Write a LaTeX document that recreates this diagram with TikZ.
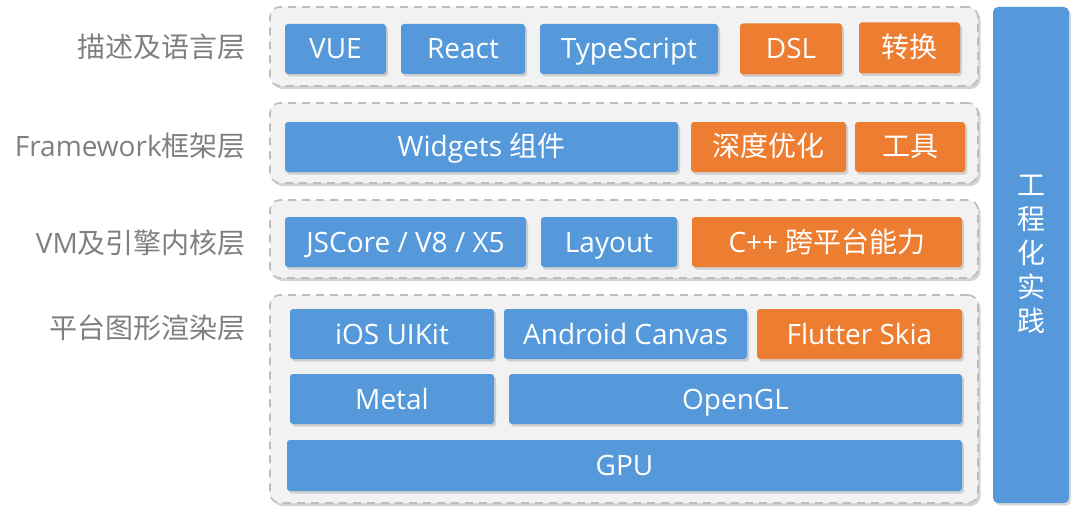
\documentclass[tikz,border=0pt]{standalone}
\usepackage{fontspec}
\setmainfont{Open Sans}
\newfontfamily\cjk{Noto Sans CJK SC}
\usetikzlibrary{shadows}

\definecolor{boxblue}{HTML}{5599DB}
\definecolor{boxorange}{HTML}{ED7D31}
\definecolor{layerfill}{HTML}{F2F2F2}
\definecolor{layerline}{HTML}{BDBDBD}
\definecolor{labelgray}{HTML}{7F7F7F}

\tikzset{
  layer/.style={draw=layerline, fill=layerfill, line width=1.6pt,
    dash pattern=on 8pt off 6pt, rounded corners=10pt, inner sep=0pt,
    drop shadow={shadow xshift=2.5pt, shadow yshift=-3pt, opacity=0.35}},
  blk/.style={rounded corners=3pt, text=white, inner sep=0pt,
    font=\fontsize{28}{28}\selectfont, text height=20pt, text depth=0pt,
    drop shadow={shadow xshift=2pt, shadow yshift=-2.5pt, opacity=0.3}},
  blueblk/.style={blk, fill=boxblue},
  orangeblk/.style={blk, fill=boxorange},
  layerlabel/.style={anchor=east, text=labelgray, inner sep=0pt,
    font=\fontsize{28}{28}\selectfont, text height=20pt, text depth=0pt},
}

\begin{document}
\begin{tikzpicture}[x=1pt,y=-1pt]
  \useasboundingbox (0,0) rectangle (1080,519);

  % Layer frames
  \node [layer, minimum width=708pt, minimum height=79pt] (layerA) at (624,46.5) {};
  \node [layer, minimum width=708pt, minimum height=80pt] (layerB) at (624,143) {};
  \node [layer, minimum width=708pt, minimum height=78pt] (layerC) at (624,239) {};
  \node [layer, minimum width=708pt, minimum height=208pt] (layerD) at (624,399) {};

  % Layer labels
  \node [layerlabel] (labelA) at (246,48) {\cjk 描述及语言层};
  \node [layerlabel] (labelB) at (246,147) {Framework{\cjk 框架层}};
  \node [layerlabel] (labelC) at (246,243) {VM{\cjk 及引擎内核层}};
  \node [layerlabel] (labelD) at (246,328) {\cjk 平台图形渲染层};

  % Row of description and language layer
  \node [blueblk, minimum width=101pt, minimum height=50pt] (vue) at (335.5,49) {VUE};
  \node [blueblk, minimum width=124pt, minimum height=50pt] (react) at (463,49) {React};
  \node [blueblk, minimum width=178pt, minimum height=50pt] (typescript) at (629,49) {TypeScript};
  \node [orangeblk, minimum width=102pt, minimum height=51pt] (dsl) at (791,49) {DSL};
  \node [orangeblk, minimum width=101pt, minimum height=51pt] (convert) at (909.5,48) {\cjk 转换};

  % Row of framework layer
  \node [blueblk, minimum width=393pt, minimum height=50pt] (widgets) at (481.5,147) {Widgets {\cjk 组件}};
  \node [orangeblk, minimum width=155pt, minimum height=50pt] (optimize) at (768.5,147) {\cjk 深度优化};
  \node [orangeblk, minimum width=110pt, minimum height=50pt] (tools) at (910,147) {\cjk 工具};

  % Row of VM and engine layer
  \node [blueblk, minimum width=241pt, minimum height=50pt] (jscore) at (405.5,242) {JSCore / V8 / X5};
  \node [blueblk, minimum width=136pt, minimum height=50pt] (layout) at (609,242) {Layout};
  \node [orangeblk, minimum width=270pt, minimum height=50pt] (cpp) at (827,242) {C++ {\cjk 跨平台能力}};

  % Rows of platform rendering layer
  \node [blueblk, minimum width=204pt, minimum height=50pt] (uikit) at (392,334) {iOS UIKit};
  \node [blueblk, minimum width=243pt, minimum height=50pt] (canvas) at (625.5,334) {Android Canvas};
  \node [orangeblk, minimum width=205pt, minimum height=50pt] (skia) at (859.5,334) {Flutter Skia};
  \node [blueblk, minimum width=204pt, minimum height=50pt] (metal) at (392,399) {Metal};
  \node [blueblk, minimum width=453pt, minimum height=50pt] (opengl) at (735.5,399) {OpenGL};
  \node [blueblk, minimum width=675pt, minimum height=51pt] (gpu) at (624.5,465.5) {GPU};

  % Engineering practice column
  \node [blueblk, rounded corners=5pt, minimum width=76pt, minimum height=496pt] (practice) at (1031,255) {};
  \node [text=white, align=center, inner sep=0pt, font=\cjk\fontsize{28}{34}\selectfont] (practicetext) at (1031,254) {工\\程\\化\\实\\践};
\end{tikzpicture}
\end{document}
